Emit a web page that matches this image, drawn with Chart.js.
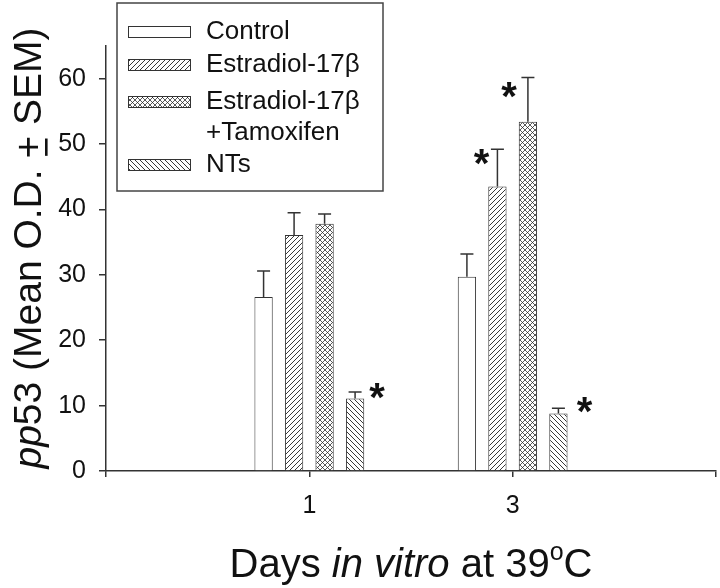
<!DOCTYPE html>
<html>
<head>
<meta charset="utf-8">
<script src="https://cdn.jsdelivr.net/npm/chart.js@4/dist/chart.umd.min.js"></script>
<style>
  html, body { margin: 0; padding: 0; background: #fff; }
  canvas { display: block; }
</style>
</head>
<body>
<canvas id="c" width="720" height="588"></canvas>
<script>
// ---- data ----
const days = ['', '1', '3', ''];
const seriesNames = ['Control', 'Estradiol-17β', 'Estradiol-17β\n+Tamoxifen', 'NTs'];
const controlMean   = [null, 26.6, 29.7, null];
const controlSEM    = [null, 4.0, 3.5, null];
const estradiolMean = [null, 36.1, 43.5, null];
const estradiolSEM  = [null, 3.4, 5.7, null];
const tamoxMean     = [null, 37.8, 53.4, null];
const tamoxSEM      = [null, 1.5, 6.8, null];
const ntsMean       = [null, 11.1, 8.8, null];
const ntsSEM        = [null, 1.0, 0.8, null];
const yTickValues   = [0, 10, 20, 30, 40, 50, 60];
const yMax = 65;
// significance markers: [series index, day index]
const significant = [[3, 1], [1, 2], [2, 2], [3, 2]];

// ---- styles ----
const FONT = "'Liberation Sans', Arial, Helvetica, sans-serif";
const INK = '#111';
const LINE = '#333';

function makePattern(kind, s, lw) {
  const c = document.createElement('canvas');
  c.width = s; c.height = s;
  const g = c.getContext('2d');
  g.fillStyle = '#fff';
  g.fillRect(0, 0, s, s);
  g.strokeStyle = '#222';
  g.lineWidth = lw;
  const fwd = () => { // "/"
    g.beginPath();
    g.moveTo(-1, s + 1); g.lineTo(s + 1, -1);
    g.moveTo(-1, 1); g.lineTo(1, -1);
    g.moveTo(s - 1, s + 1); g.lineTo(s + 1, s - 1);
    g.stroke();
  };
  const back = () => { // "\"
    g.beginPath();
    g.moveTo(-1, -1); g.lineTo(s + 1, s + 1);
    g.moveTo(s - 1, -1); g.lineTo(s + 1, 1);
    g.moveTo(-1, s - 1); g.lineTo(1, s + 1);
    g.stroke();
  };
  if (kind === 'fwd') fwd();
  if (kind === 'back') back();
  if (kind === 'cross') { fwd(); back(); }
  return g.createPattern(c, 'repeat');
}
const fills = ['#ffffff', makePattern('fwd', 5, 0.9), makePattern('cross', 5, 0.75), makePattern('back', 5, 0.9)];

const means = [controlMean, estradiolMean, tamoxMean, ntsMean];
const sems = [controlSEM, estradiolSEM, tamoxSEM, ntsSEM];

const datasets = means.map((m, i) => ({
  label: seriesNames[i],
  data: m,
  sem: sems[i],
  backgroundColor: fills[i],
  borderColor: LINE,
  borderWidth: 1,
  categoryPercentage: 0.6,
  barPercentage: 0.6
}));

// error bars (upward only, with cap)
const errorBars = {
  id: 'errorBars',
  afterDatasetsDraw(chart) {
    const ctx = chart.ctx;
    const y = chart.scales.y;
    ctx.save();
    ctx.strokeStyle = LINE;
    ctx.lineWidth = 1.5;
    chart.data.datasets.forEach((ds, di) => {
      const meta = chart.getDatasetMeta(di);
      meta.data.forEach((el, i) => {
        const v = ds.data[i];
        if (v == null) return;
        const top = y.getPixelForValue(v + ds.sem[i]);
        ctx.beginPath();
        ctx.moveTo(el.x, el.y);
        ctx.lineTo(el.x, top);
        ctx.moveTo(el.x - 6.5, top);
        ctx.lineTo(el.x + 6.5, top);
        ctx.stroke();
      });
    });
    ctx.restore();
  }
};

// significance asterisks, placed next to the error bar top
const starOffsets = { '3,1': [22, -5], '1,2': [-16, 4], '2,2': [-19, 9], '3,2': [26, -7] };
const stars = {
  id: 'stars',
  afterDatasetsDraw(chart) {
    const ctx = chart.ctx;
    const y = chart.scales.y;
    ctx.save();
    ctx.fillStyle = INK;
    ctx.font = 'bold 40px ' + FONT;
    ctx.textAlign = 'center';
    ctx.textBaseline = 'alphabetic';
    significant.forEach(([di, i]) => {
      const ds = chart.data.datasets[di];
      const el = chart.getDatasetMeta(di).data[i];
      const top = y.getPixelForValue(ds.data[i] + ds.sem[i]);
      const off = starOffsets[di + ',' + i] || [20, 0];
      ctx.fillText('*', el.x + off[0], top + off[1] + 24);
    });
    ctx.restore();
  }
};

// draws a run of mixed-style text segments
function drawRuns(ctx, runs, size) {
  let w = 0;
  runs.forEach(r => {
    ctx.font = (r.italic ? 'italic ' : '') + Math.round(size * (r.sup ? 0.62 : 1)) + 'px ' + FONT;
    r.w = ctx.measureText(r.t).width;
    w += r.w;
  });
  let x = -w / 2;
  runs.forEach(r => {
    ctx.font = (r.italic ? 'italic ' : '') + Math.round(size * (r.sup ? 0.62 : 1)) + 'px ' + FONT;
    ctx.fillText(r.t, x, r.sup ? -size * 0.42 : 0);
    if (r.underline) {
      ctx.fillRect(x + r.w * 0.12, 4, r.w * 0.76, 2.6);
    }
    x += r.w;
  });
}

const titles = {
  id: 'titles',
  afterDraw(chart) {
    const ctx = chart.ctx;
    const a = chart.chartArea;
    ctx.save();
    ctx.fillStyle = INK;
    ctx.textAlign = 'left';
    ctx.textBaseline = 'alphabetic';
    // x title
    ctx.save();
    ctx.translate((a.left + a.right) / 2, 577);
    drawRuns(ctx, [
      { t: 'Days ' }, { t: 'in vitro', italic: true }, { t: ' at 39' }, { t: 'o', sup: true }, { t: 'C' }
    ], 40);
    ctx.restore();
    // y title
    ctx.save();
    ctx.translate(41, 248);
    ctx.rotate(-Math.PI / 2);
    drawRuns(ctx, [
      { t: 'pp', italic: true }, { t: '53 (Mean O.D. ' }, { t: '+', underline: true }, { t: ' SEM)' }
    ], 39);
    ctx.restore();
    ctx.restore();
  }
};

// legend box
const legendBox = {
  id: 'legendBox',
  afterDraw(chart) {
    const ctx = chart.ctx;
    ctx.save();
    ctx.fillStyle = '#fff';
    ctx.fillRect(117, 3, 266, 188);
    ctx.strokeStyle = '#444';
    ctx.lineWidth = 1.5;
    ctx.strokeRect(117, 3, 266, 188);
    const rowY = [32, 65, 102, 165];
    ctx.font = '26px ' + FONT;
    ctx.textBaseline = 'middle';
    ctx.textAlign = 'left';
    chart.data.datasets.forEach((ds, i) => {
      const yc = rowY[i];
      ctx.fillStyle = ds.backgroundColor;
      ctx.fillRect(128, yc - 5.5, 62, 11);
      ctx.strokeStyle = LINE;
      ctx.lineWidth = 1;
      ctx.strokeRect(128.5, yc - 5.5, 62, 11);
      ctx.fillStyle = INK;
      ds.label.split('\n').forEach((line, k) => {
        ctx.fillText(line, 206, yc + k * 31);
      });
    });
    ctx.restore();
  }
};

new Chart(document.getElementById('c'), {
  type: 'bar',
  data: { labels: days, datasets },
  options: {
    responsive: false,
    animation: false,
    devicePixelRatio: 1,
    layout: { padding: { left: 0, right: 4, top: 46, bottom: 0 } },
    plugins: { legend: { display: false }, tooltip: { enabled: false } },
    scales: {
      x: {
        type: 'category',
        offset: false,
        grid: { display: true, offset: false, drawOnChartArea: false, drawTicks: true, tickLength: 6, color: LINE, lineWidth: 1.5 },
        border: { display: true, color: LINE, width: 1.5 },
        ticks: { color: INK, font: { family: FONT, size: 25 }, padding: 14, maxRotation: 0, autoSkip: false },
        afterFit(s) { s.height = 117; s.paddingLeft = 0; s.paddingRight = 0; }
      },
      y: {
        min: 0,
        max: yMax,
        grid: { display: true, drawOnChartArea: false, drawTicks: true, tickLength: 7, color: LINE, lineWidth: 1.5 },
        border: { display: true, color: LINE, width: 1.5 },
        ticks: { color: INK, font: { family: FONT, size: 25 }, padding: 13 },
        afterBuildTicks(s) { s.ticks = yTickValues.map(v => ({ value: v })); },
        afterFit(s) { s.width = 106; s.paddingTop = 0; s.paddingBottom = 0; }
      }
    }
  },
  plugins: [errorBars, stars, titles, legendBox]
});
</script>
</body>
</html>
